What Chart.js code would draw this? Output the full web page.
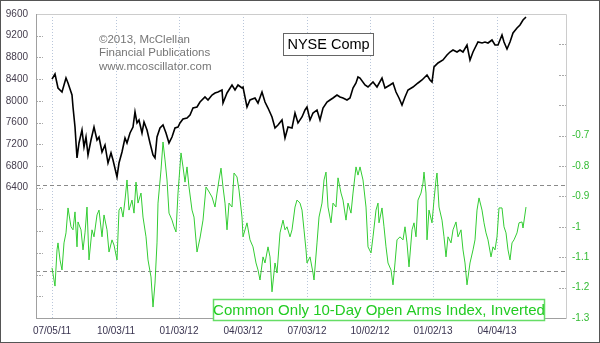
<!DOCTYPE html>
<html>
<head>
<meta charset="utf-8">
<script src="https://cdn.jsdelivr.net/npm/chart.js@4/dist/chart.umd.min.js"></script>
<style>
html,body{margin:0;padding:0;background:#fff;}
#c{display:block;}
</style>
</head>
<body>
<canvas id="c" width="600" height="343"></canvas>
<script>
// ---- Data (x = trading days since 07/05/11) ----
const nyseDays = [
  0,3,6,10,14,16,20,21,23,25,
  27,30,32,34,36,39,42,45,47,50,
  53,56,59,61,65,67,70,73,75,78,
  81,83,85,87,90,92,95,98,101,103,
  105,108,111,114,117,120,123,126,128,131,
  135,138,141,145,148,153,156,160,163,166,
  170,171,175,180,183,186,190,191,195,198,
  203,206,210,213,216,220,223,226,230,233,
  236,240,243,246,250,253,255,258,261,265,
  268,271,275,278,281,285,288,291,295,298,
  301,304,306,308,313,316,321,325,330,333,
  338,341,344,347,350,353,356,361,366,370,
  375,378,380,382,386,391,395,398,401,405,
  408,411,415,418,421,426,430,433,436,440,
  443,446,450,452,455,458,461,465,468,471,
  474
];
const nyseVals = [
  8400,8495,8237,8163,8420,8329,8108,7887,7518,6948,
  7224,7463,7150,7334,7003,7279,7518,7279,7334,7058,
  7187,6855,7040,6910,6598,6855,7058,7316,7224,7408,
  7518,7795,7592,7647,7408,7610,7463,7224,7003,6948,
  7334,7500,7555,7408,7224,7334,7500,7518,7592,7666,
  7684,7740,7868,7887,7979,8071,8016,8108,8145,8163,
  8200,7960,8145,8292,8200,8292,8237,8255,7887,8016,
  8053,7960,8163,7979,7868,7703,7500,7555,7647,7316,
  7518,7500,7776,7592,7703,7832,7887,7647,7776,7832,
  7647,7868,7979,8016,8053,8108,8071,8053,8016,8053,
  8237,8329,8440,8420,8292,8255,8347,8255,8420,8237,
  8292,8329,8163,8053,7924,8071,8200,8255,8329,8384,
  8476,8384,8347,8624,8698,8753,8845,8900,8937,8900,
  8937,8900,9029,8753,8900,9084,9066,9084,9066,9121,
  9029,9029,9213,9084,8955,9084,9250,9342,9397,9490,
  9545
];
const armsDays = [
  0,3,5,6,8,10,12,14,16,19,
  21,23,25,26,29,31,33,35,37,40,
  42,45,47,50,52,55,57,60,62,65,
  67,69,71,73,75,77,80,82,84,86,
  89,91,94,96,99,101,103,105,106,109,
  111,113,115,117,120,122,124,126,129,131,
  133,135,137,140,142,145,148,151,154,156,
  160,163,165,167,169,171,173,175,177,180,
  182,185,187,190,191,195,198,201,204,206,
  208,211,213,216,218,220,223,225,228,231,
  233,235,238,240,243,245,248,250,252,254,
  255,258,261,262,265,267,270,272,274,276,
  279,281,284,286,289,291,294,296,299,301,
  304,306,308,311,314,316,319,321,324,326,
  327,330,332,334,336,339,341,343,345,348,
  351,353,355,357,360,362,364,366,369,371,
  372,374,375,377,380,382,384,385,387,390,
  392,394,396,399,401,404,406,409,411,413,
  415,418,421,423,425,427,430,432,434,436,
  439,441,443,445,447,450,452,454,456,458,
  460,462,465,467,470,471,474
];
const armsVals = [
  -1.135,-1.195,-1.076,-1.053,-1.109,-1.142,-1.053,-1.020,-0.938,-1.000,
  -1.010,-0.951,-1.066,-0.984,-1.010,-1.076,-1.020,-0.935,-1.109,-1.010,
  -1.033,-0.961,-0.945,-1.033,-0.961,-1.010,-1.083,-1.043,-1.060,-1.109,
  -0.945,-0.935,-0.968,-0.912,-0.846,-0.945,-0.912,-0.955,-0.853,-0.922,
  -0.889,-0.968,-1.033,-1.109,-1.165,-1.264,-1.185,-1.053,-0.922,-0.813,
  -0.721,-0.780,-0.846,-0.955,-0.978,-1.000,-1.017,-0.889,-0.757,-0.803,
  -0.853,-0.803,-0.869,-0.945,-0.968,-1.083,-1.037,-0.978,-0.869,-0.879,
  -0.902,-0.935,-0.889,-0.846,-0.807,-0.869,-0.922,-1.010,-0.922,-0.935,
  -0.823,-0.836,-0.879,-0.968,-1.033,-0.987,-1.043,-1.066,-1.119,-1.142,
  -1.175,-1.099,-1.119,-1.066,-1.099,-1.214,-1.119,-1.152,-1.020,-0.978,
  -1.010,-1.000,-1.033,-1.010,-0.935,-0.912,-0.922,-0.945,-1.010,-1.076,
  -1.119,-1.099,-1.152,-1.175,-1.053,-0.968,-0.922,-0.846,-0.820,-0.935,
  -0.987,-0.922,-0.935,-0.839,-0.889,-0.912,-0.978,-0.922,-0.955,-0.889,
  -0.803,-0.830,-0.803,-0.846,-0.935,-1.066,-1.086,-1.033,-0.945,-0.922,
  -0.987,-0.938,-1.000,-1.066,-1.119,-1.142,-1.191,-1.119,-1.043,-1.033,
  -1.043,-1.000,-1.053,-1.132,-1.010,-0.987,-1.033,-0.912,-0.889,-0.856,
  -0.820,-0.889,-1.043,-0.945,-0.987,-0.912,-0.846,-0.823,-0.935,-0.978,
  -1.033,-1.099,-1.033,-1.053,-1.010,-0.984,-1.033,-1.010,-1.076,-1.119,
  -1.191,-1.119,-1.076,-1.043,-0.945,-0.905,-0.945,-0.987,-1.020,-1.043,
  -1.099,-1.066,-1.076,-1.033,-0.938,-0.938,-1.000,-1.020,-1.076,-1.109,
  -1.053,-1.043,-1.020,-0.987,-0.984,-1.004,-0.935
];
const xTickDays = [0,64,127,191,255,318,381,445];
const xTickLabels = ['07/05/11','10/03/11','01/03/12','04/03/12','07/03/12','10/02/12','01/02/13','04/04/13'];
const armsRefLevels = [-0.862, -1.147];
const noteLines = ['\u00A92013, McClellan','Financial Publications','www.mcoscillator.com'];
const nyseTitle = 'NYSE Comp';
const armsTitle = 'Common Only 10-Day Open Arms Index, Inverted';

const FONT = "'Liberation Sans', Arial, sans-serif";

const decor = {
  id: 'decor',
  beforeDatasetsDraw(chart) {
    const ctx = chart.ctx, a = chart.chartArea;
    const xs = chart.scales.x, ys = chart.scales.y, y1 = chart.scales.y1;
    ctx.save();
    ctx.strokeStyle = '#b9c6da'; ctx.lineWidth = 1; ctx.setLineDash([1,2]);
    xTickDays.forEach(d => {
      const px = Math.round(xs.getPixelForValue(d)) + 0.5;
      ctx.beginPath(); ctx.moveTo(px, a.top); ctx.lineTo(px, a.bottom); ctx.stroke();
    });
    ctx.strokeStyle = '#8a8a8a'; ctx.setLineDash([4,3]);
    armsRefLevels.forEach(v => {
      const py = Math.round(y1.getPixelForValue(v)) + 0.5;
      ctx.beginPath(); ctx.moveTo(a.left, py); ctx.lineTo(a.right, py); ctx.stroke();
    });
    ctx.strokeStyle = '#a8a8a8'; ctx.setLineDash([2,1]);
    ys.ticks.forEach(t => {
      const py = Math.round(ys.getPixelForValue(t.value)) + 0.5;
      ctx.beginPath(); ctx.moveTo(a.left, py); ctx.lineTo(a.left + 7, py); ctx.stroke();
    });
    y1.ticks.forEach(t => {
      const py = Math.round(y1.getPixelForValue(t.value)) + 0.5;
      ctx.beginPath(); ctx.moveTo(a.right - 7, py); ctx.lineTo(a.right, py); ctx.stroke();
    });
    ctx.setLineDash([]);
    ctx.strokeStyle = '#cccccc';
    ctx.beginPath();
    ctx.moveTo(a.left, a.top + 0.5); ctx.lineTo(a.right + 0.5, a.top + 0.5); ctx.lineTo(a.right + 0.5, a.bottom);
    ctx.stroke();
    ctx.strokeStyle = '#a0a0a0';
    ctx.beginPath();
    ctx.moveTo(a.left + 0.5, a.top); ctx.lineTo(a.left + 0.5, a.bottom + 0.5); ctx.lineTo(a.right + 0.5, a.bottom + 0.5);
    ctx.stroke();
    ctx.restore();
  },
  afterDraw(chart) {
    const ctx = chart.ctx;
    ctx.save();
    ctx.fillStyle = '#767676';
    ctx.font = '11.5px ' + FONT;
    ctx.textAlign = 'left'; ctx.textBaseline = 'middle';
    noteLines.forEach((s, i) => ctx.fillText(s, 99, 39.5 + i * 13.5));
    ctx.fillStyle = '#ffffff';
    ctx.fillRect(283.5, 33.5, 90, 22);
    ctx.strokeStyle = '#666666'; ctx.lineWidth = 1;
    ctx.strokeRect(283.5, 33.5, 90, 22);
    ctx.fillStyle = '#000000';
    ctx.font = '14.5px ' + FONT;
    ctx.textAlign = 'center';
    ctx.fillText(nyseTitle, 328.5, 45);
    ctx.fillStyle = '#ffffff';
    ctx.fillRect(213.5, 299.5, 331, 21);
    ctx.strokeStyle = '#66dd66'; ctx.lineWidth = 1.5;
    ctx.strokeRect(213.5, 299.5, 331, 21);
    ctx.fillStyle = '#22cc22';
    ctx.font = '15px ' + FONT;
    ctx.fillText(armsTitle, 379, 311);
    ctx.strokeStyle = '#555555'; ctx.lineWidth = 1;
    ctx.strokeRect(0.5, 0.5, 599, 342);
    ctx.restore();
  }
};

new Chart(document.getElementById('c'), {
  type: 'line',
  data: {
    datasets: [
      {
        label: 'Arms',
        data: armsDays.map((d, i) => ({x: d, y: armsVals[i]})),
        yAxisID: 'y1',
        borderColor: '#33cc33',
        borderWidth: 1,
        pointRadius: 0,
        tension: 0
      },
      {
        label: 'NYSE',
        data: nyseDays.map((d, i) => ({x: d, y: nyseVals[i]})),
        yAxisID: 'y',
        borderColor: '#000000',
        borderWidth: 1.6,
        pointRadius: 0,
        tension: 0
      }
    ]
  },
  options: {
    responsive: false,
    animation: false,
    devicePixelRatio: 1,
    layout: { padding: { top: 13, left: 0, right: 0, bottom: 0 } },
    plugins: { legend: { display: false }, tooltip: { enabled: false } },
    scales: {
      x: {
        type: 'linear', min: -16, max: 514,
        afterBuildTicks: s => { s.ticks = xTickDays.map(v => ({ value: v })); },
        afterFit: s => { s.height = 25; },
        ticks: {
          autoSkip: false, maxRotation: 0, padding: 7,
          color: '#3a3450', font: { family: FONT, size: 10 },
          callback: v => { const i = xTickDays.indexOf(v); return i >= 0 ? xTickLabels[i] : ''; }
        },
        grid: { display: false, drawTicks: false },
        border: { display: false }
      },
      y: {
        position: 'left', min: 4000, max: 9600,
        afterFit: s => { s.width = 36; },
        ticks: {
          stepSize: 400, padding: 8,
          color: '#443d4d', font: { family: FONT, size: 10 },
          callback: v => (v >= 6400 ? String(v) : '')
        },
        grid: { display: false, drawTicks: false },
        border: { display: false }
      },
      y1: {
        position: 'right', min: -1.3, max: -0.3,
        afterFit: s => { s.width = 34; },
        ticks: {
          stepSize: 0.1, padding: 6,
          color: '#33bb33', font: { family: FONT, size: 10 },
          callback: v => { const r = Math.round(v * 10) / 10; return r <= -0.7 ? String(r) : ''; }
        },
        grid: { display: false, drawTicks: false },
        border: { display: false }
      }
    }
  },
  plugins: [decor]
});
</script>
</body>
</html>
